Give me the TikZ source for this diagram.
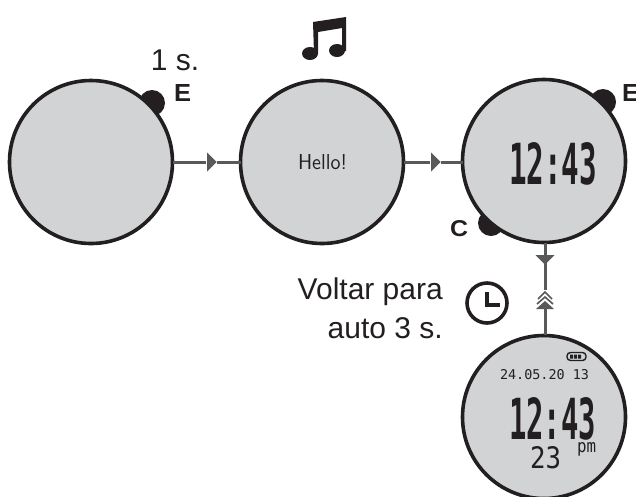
\documentclass[tikz,border=0pt]{standalone}
\usepackage{fontspec}
\usepackage{graphicx}
\setmainfont{Liberation Sans}
\newfontfamily\lcd{DejaVu Sans Mono}[FakeStretch=1.0]
\usetikzlibrary{shapes.geometric}
\definecolor{ink}{HTML}{231F20}
\definecolor{face}{HTML}{D1D3D4}
\definecolor{conn}{HTML}{58595B}
\tikzset{
  watch/.style={circle,draw=ink,fill=face,line width=3.6pt,minimum size=163pt,inner sep=0pt,outer sep=0pt},
  knob/.style={circle,fill=ink,minimum size=26pt,inner sep=0pt},
  link/.style={draw=conn,line width=3pt},
  tip/.style={fill=conn,draw=none,isosceles triangle,isosceles triangle apex angle=90,inner sep=0pt,minimum width=19pt,minimum height=9pt,outer sep=0pt},
  lab/.style={text=ink,font=\fontsize{30}{34}\selectfont,inner sep=0pt},
  key/.style={text=ink,inner sep=0pt},
  lcdtxt/.style={text=ink,inner sep=0pt}
}
\newcommand{\fitbox}[3]{\resizebox{#1pt}{#2pt}{#3}}
\begin{document}
\begin{tikzpicture}[x=1pt,y=-1pt]
\useasboundingbox (0,0) rectangle (636,496);
\clip (0,0) rectangle (636,496);
% knobs
\node[knob] (ka) at (152,103) {};
\node[knob] (ke) at (603,102) {};
\node[knob] (kc) at (491,223) {};
% connectors first
\coordinate (ab) at (211,162);
\coordinate (bc) at (435,162);
\coordinate (cd1) at (545,259);
\coordinate (cd2) at (545,300);
% watches
\node[watch] (a) at (91,162) {};
\node[watch] (b) at (322,162) {};
\node[watch] (c) at (544,161) {};
\node[watch] (d) at (544,417) {};
% links
\draw[link] (a.east |- ab) -- (206,162);
\draw[link] (217,162) -- (b.west |- ab);
\draw[link] (b.east |- bc) -- (430,162);
\draw[link] (441,162) -- (c.west |- bc);
\draw[link] (545,243) -- (545,258);
\draw[link] (545,262) -- (545,290);
\draw[link] (545,309) -- (545,335);
\node[tip] (t1) at (ab) {};
\node[tip] (t2) at (bc) {};
\node[tip,rotate=-90] (t3) at (cd1) {};
% double chevron
\fill[conn] (536,309) -- (545,301) -- (554,309) -- cycle;
\draw[conn,line width=1.6pt] (537,304) -- (545,297) -- (553,304);
\draw[conn,line width=1.6pt] (538,299) -- (545,292) -- (552,299);
% labels
\node[lab,anchor=base] (l1) at (175,70) {1 s.};
\node[lab,anchor=base east] (l2) at (443,299) {Voltar para};
\node[lab,anchor=base east] (l3) at (443,338) {auto 3 s.};
\node[key] (e1) at (182.5,92.5) {\fitbox{17}{17}{\bfseries E}};
\node[key,anchor=west] (e2) at (622,92.5) {\fitbox{17}{17}{\bfseries E}};
\node[key] (c1) at (459,228.5) {\fitbox{18}{16}{\bfseries C}};
% faces
\node[lcdtxt] (hello) at (322.5,162) {\fitbox{49}{15}{\sffamily Hello!}};
\node[lcdtxt] (t1c) at (553,164) {\fitbox{88}{42}{\lcd\bfseries 12:43}};
\node[lcdtxt] (date) at (544.5,375) {\fitbox{89}{10}{\lcd 24.05.20 13}};
\node[lcdtxt] (t2c) at (552.5,419) {\fitbox{87}{42}{\lcd\bfseries 12:43}};
\node[lcdtxt] (day) at (545.5,458) {\fitbox{31}{22}{\lcd 23}};
\node[lcdtxt] (pm) at (586.5,449) {\fitbox{19}{10}{\lcd pm}};
% battery
\draw[ink,line width=1.4pt,fill=face,rounded corners=3.5pt] (567,352.5) rectangle (586,360.5);
\fill[ink] (570,354.5) rectangle (573,358.5) (574,354.5) rectangle (577,358.5) (578,354.5) rectangle (581,358.5);
% note icon
\fill[ink] (313,22) -- (346,17) -- (346,51) -- (342,51) -- (342,28) -- (318,32) -- (318,53) -- (314,53) -- cycle;
\fill[ink] (310,53.5) ellipse [x radius=8,y radius=6.5];
\fill[ink] (337,50.5) ellipse [x radius=8,y radius=6.5];
% clock icon
\draw[ink,line width=3.6pt] (487,303) circle [radius=20];
\draw[ink,line width=3.6pt] (487,292) -- (487,305) -- (500,305);
\end{tikzpicture}
\end{document}
